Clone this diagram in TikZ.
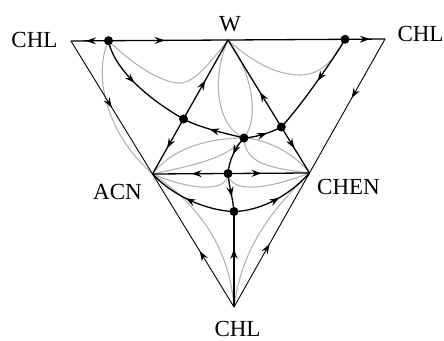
\documentclass[tikz,border=0pt]{standalone}
\usepackage{fontspec}
\setmainfont{Liberation Serif}
\usetikzlibrary{arrows.meta,decorations.markings}
\definecolor{curvegray}{RGB}{178,178,178}
\tikzset{
  flow/.style={line width=1.3pt, draw=black},
  rim/.style={line width=0.9pt, draw=black},
  soft/.style={line width=1.1pt, draw=curvegray},
  dot/.style={circle, fill=black, inner sep=0pt, minimum size=9pt},
  lbl/.style={font=\fontsize{23}{23}\selectfont, inner sep=0pt},
  arr/.style={postaction={decorate, decoration={markings, mark=at position #1 with {\arrow{Stealth[length=10pt,width=7pt,inset=3.5pt]}}}}},
}
\begin{document}
\begin{tikzpicture}[x=1pt,y=-1pt]
\useasboundingbox (0,0) rectangle (444,340);
% points
\coordinate (TL) at (71,41);
\coordinate (TR) at (385,39);
\coordinate (W) at (228,40);
\coordinate (B) at (234,307);
\coordinate (ACN) at (152.5,174);
\coordinate (CHEN) at (309.5,173);
\coordinate (d1) at (108.5,40.7);
\coordinate (d2) at (345,39.3);
\coordinate (p1) at (183.5,119);
\coordinate (p2) at (281.3,127);
\coordinate (c) at (244,138);
\coordinate (m) at (228,173.5);
\coordinate (l) at (234,211.5);
\coordinate (g1m) at (180,83);
\coordinate (g2m) at (300,75);
% grey trajectories
\draw[soft] (d1) .. controls (130,62) and (160,83) .. (g1m) .. controls (195,83) and (212,60) .. (W);
\draw[soft] (W) .. controls (250,60) and (275,75) .. (g2m) .. controls (320,75) and (335,60) .. (d2);
\draw[soft] (d1) .. controls (94,72) and (103,130) .. (ACN);
\draw[soft] (W) .. controls (212,75) and (215,125) .. (c);
\draw[soft] (W) .. controls (248,65) and (262,115) .. (c);
\draw[soft] (ACN) .. controls (175,145) and (215,138) .. (c);
\draw[soft] (c) .. controls (268,139) and (296,155) .. (CHEN);
\draw[soft] (ACN) .. controls (195,165) and (228,158) .. (c);
\draw[soft] (c) .. controls (245,163) and (268,168) .. (CHEN);
\draw[soft] (m) .. controls (227,195) and (185,188) .. (ACN);
\draw[soft] (m) .. controls (230,195) and (272,188) .. (CHEN);
\draw[soft] (B) .. controls (230,250) and (200,205) .. (ACN);
\draw[soft] (B) .. controls (242,248) and (270,212) .. (CHEN);
% outer edges
\draw[rim,arr=0.5] (TL) -- (ACN);
\draw[rim,arr=0.42] (B) -- (ACN);
\draw[rim,arr=0.44] (TR) -- (CHEN);
\draw[rim,arr=0.47] (B) -- (CHEN);
% top edge
\draw[flow,arr=0.6] (d1) -- (TL);
\draw[flow,arr=0.47] (d1) -- (W);
\draw[flow] (W) -- (d2);
\draw[flow,arr=0.62] (d2) -- (TR);
% inner straight lines
\draw[flow,arr=0.49] (p1) -- (W);
\draw[flow,arr=0.53] (p1) -- (ACN);
\draw[flow,arr=0.4] (p2) -- (W);
\draw[flow,arr=0.46] (p2) -- (CHEN);
\draw[flow,arr=0.48] (m) -- (ACN);
\draw[flow,arr=0.41] (m) -- (CHEN);
\draw[flow,arr=0.61] (B) -- (l);
% separatrices
\draw[flow,arr=0.61] (m) .. controls (229,186) and (233,199) .. (l);
\draw[flow,arr=0.55] (l) .. controls (210,211) and (175,198) .. (ACN);
\draw[flow,arr=0.55] (l) .. controls (258,211) and (287,198) .. (CHEN);
\draw[flow,arr=0.45] (d1) .. controls (114,70) and (150,100) .. (p1);
\draw[flow,arr=0.56] (c) .. controls (228,134) and (200,128) .. (p1);
\draw[flow,arr=0.46] (d2) .. controls (333,60) and (300,107) .. (p2);
\draw[flow,arr=0.6] (c) .. controls (258,137) and (272,132) .. (p2);
\draw[flow,arr=0.5] (c) .. controls (236,146) and (229,160) .. (m);
% singular points
\foreach \p in {d1,d2,p1,p2,c,m,l} \node[dot] (dot-\p) at (\p) {};
% labels
\node[lbl] (tTL) at (34.5,40) {CHL};
\node[lbl] (tTR) at (420.5,34) {CHL};
\node[lbl] (tW) at (230,24) {W};
\node[lbl] (tACN) at (117.5,192) {ACN};
\node[lbl] (tCHEN) at (348.5,187) {CHEN};
\node[lbl] (tB) at (237.5,329) {CHL};
\end{tikzpicture}
\end{document}
